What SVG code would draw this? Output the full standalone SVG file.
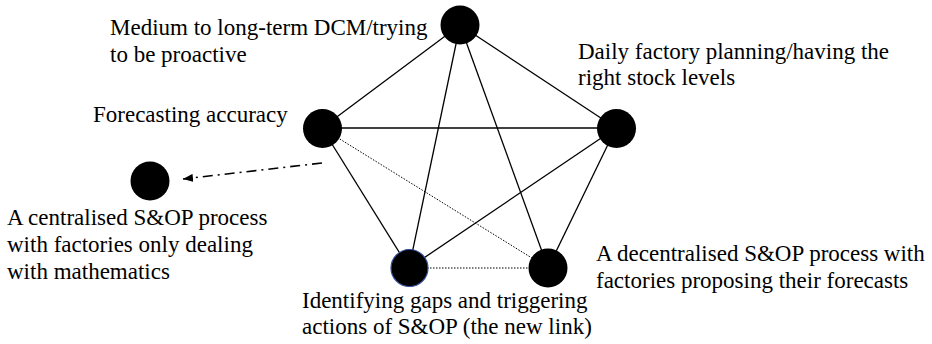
<svg xmlns="http://www.w3.org/2000/svg" width="932" height="344" viewBox="0 0 932 344" font-family="Liberation Serif, Times New Roman, DejaVu Serif, serif">
<style>
  text { font-family: 'Liberation Serif', 'Times New Roman', 'DejaVu Serif', serif; font-size: 23px; fill: #000; }
  .node { fill: #000; }
  .solid { stroke: #000; stroke-width: 1.3; fill: none; }
  .dotted { stroke: #000; stroke-width: 1; stroke-dasharray: 1.5 1.5; fill: none; }
  .dashdot { stroke: #000; stroke-width: 1.6; stroke-dasharray: 10 5 2 5; fill: none; }
</style>
<defs>
  <marker id="arrow" viewBox="0 0 10 8" refX="10" refY="4" markerWidth="10" markerHeight="8" markerUnits="userSpaceOnUse" orient="auto">
    <path d="M0,0 L10,4 L0,8 Z" fill="#000"/>
  </marker>
</defs>
<rect width="932" height="344" fill="#fff"/>
<g id="connectors">
  <line class="solid" x1="460" y1="25" x2="322" y2="128"/>
  <line class="solid" x1="460" y1="25" x2="616" y2="128"/>
  <line class="solid" x1="460" y1="25" x2="409" y2="268"/>
  <line class="solid" x1="460" y1="25" x2="548" y2="268"/>
  <line class="solid" x1="322" y1="128" x2="616" y2="128"/>
  <line class="solid" x1="322" y1="128" x2="409" y2="268"/>
  <line class="solid" x1="616" y1="128" x2="409" y2="268"/>
  <line class="solid" x1="616" y1="128" x2="548" y2="268"/>
  <line class="dotted" x1="322" y1="128" x2="548" y2="268"/>
  <line class="dotted" x1="409" y1="268" x2="548" y2="268"/>
  <line class="dashdot" x1="322" y1="163" x2="183" y2="179" marker-end="url(#arrow)"/>
</g>
<g id="node-proactive">
  <circle class="node" cx="460" cy="25" r="19.5"/>
  <text x="110" y="35">Medium to long-term DCM/trying</text>
  <text x="110" y="61.5">to be proactive</text>
</g>
<g id="node-daily">
  <circle class="node" cx="616.5" cy="128.5" r="19.5"/>
  <text x="578" y="58.5">Daily factory planning/having the</text>
  <text x="578" y="85">right stock levels</text>
</g>
<g id="node-forecasting">
  <circle class="node" cx="322.5" cy="128.5" r="19.5"/>
  <text x="93" y="122">Forecasting accuracy</text>
</g>
<g id="node-centralised">
  <circle class="node" cx="150" cy="181" r="19.5"/>
  <text x="7" y="225">A centralised S&amp;OP process</text>
  <text x="7" y="252">with factories only dealing</text>
  <text x="7" y="278.5">with mathematics</text>
</g>
<g id="node-gaps">
  <circle class="node" cx="409.5" cy="268" r="18.5" stroke="#2f4f9a" stroke-width="1.2"/>
  <text x="302" y="308">Identifying gaps and triggering</text>
  <text x="302" y="334">actions of S&amp;OP (the new link)</text>
</g>
<g id="node-decentralised">
  <circle class="node" cx="548" cy="268" r="19.5"/>
  <text x="596" y="261">A decentralised S&amp;OP process with</text>
  <text x="596" y="288">factories proposing their forecasts</text>
</g>
</svg>
